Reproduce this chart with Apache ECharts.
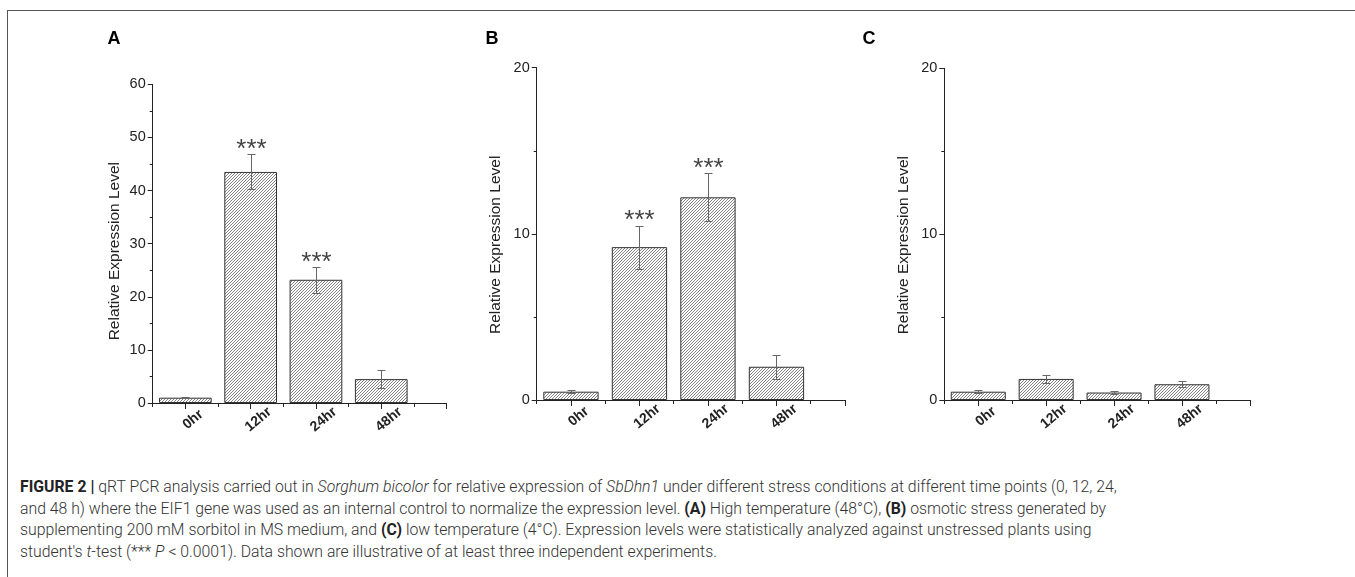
<!DOCTYPE html>
<html>
<head>
<meta charset="utf-8">
<title>SbDhn1 relative expression</title>
<script src="https://cdn.jsdelivr.net/npm/echarts@6/dist/echarts.min.js"></script>
<style>
  html, body { margin: 0; padding: 0; background: #fff; }
  #frame {
    position: absolute; left: 7px; top: 10px; right: 0; bottom: 0;
    border-top: 1px solid #555; border-left: 1px solid #555;
  }
  #chart { position: absolute; left: 0; top: 0; width: 1355px; height: 470px; }
  #caption {
    position: absolute; left: 20px; top: 476px;
    font-family: Roboto, 'Liberation Sans', Arial, sans-serif;
    font-weight: 300; font-size: 15.8px; line-height: 21.7px;
    color: #333; white-space: nowrap;
  }
  #caption b { font-weight: 700; color: #222; }
</style>
</head>
<body>
<div id="frame"></div>
<div id="chart"></div>
<div id="caption">
  <div><b>FIGURE 2 |</b> qRT PCR analysis carried out in <i>Sorghum bicolor</i> for relative expression of <i>SbDhn1</i> under different stress conditions at different time points (0, 12, 24,</div>
  <div>and 48 h) where the EIF1 gene was used as an internal control to normalize the expression level. <b>(A)</b> High temperature (48°C), <b>(B)</b> osmotic stress generated by</div>
  <div>supplementing 200 mM sorbitol in MS medium, and <b>(C)</b> low temperature (4°C). Expression levels were statistically analyzed against unstressed plants using</div>
  <div>student's <i>t</i>-test (*** <i>P</i> &lt; 0.0001). Data shown are illustrative of at least three independent experiments.</div>
</div>

<script>
// time points
const categories = ['0hr', '12hr', '24hr', '48hr']

// A: high temperature
const heatMean = [1.0, 43.5, 23.2, 4.5]
const heatErr = [0.1, 3.3, 2.45, 1.75]
const heatSig = ['', '***', '***', '']
const heatTicks = [0, 10, 20, 30, 40, 50, 60]

// B: osmotic stress
const osmoMean = [0.5, 9.2, 12.2, 2.0]
const osmoErr = [0.08, 1.3, 1.45, 0.72]
const osmoSig = ['', '***', '***', '']
const osmoTicks = [0, 10, 20]

// C: low temperature
const coldMean = [0.5, 1.27, 0.45, 0.95]
const coldErr = [0.08, 0.22, 0.1, 0.17]
const coldSig = ['', '', '', '']
const coldTicks = [0, 10, 20]

const panels = [
  { letter: 'A', letterX: 114, mean: heatMean, err: heatErr, sig: heatSig, ticks: heatTicks,
    left: 152.7, top: 84.3, height: 318.7, step: 65.3, barWidth: 52.7, nameGap: 30, namePad: 15 },
  { letter: 'B', letterX: 492, mean: osmoMean, err: osmoErr, sig: osmoSig, ticks: osmoTicks,
    left: 536.7, top: 67.7, height: 332.3, step: 68.5, barWidth: 55.3, nameGap: 33, namePad: 22 },
  { letter: 'C', letterX: 869, mean: coldMean, err: coldErr, sig: coldSig, ticks: coldTicks,
    left: 944.3, top: 68.3, height: 331.7, step: 67.9, barWidth: 55, nameGap: 33, namePad: 22 }
]

const ink = '#222'
const font = 'Liberation Sans, Arial, sans-serif'

// diagonal hatch fill for the bars
function makeHatch() {
  const c = document.createElement('canvas')
  c.width = c.height = 3
  const g = c.getContext('2d')
  g.fillStyle = '#fff'
  g.fillRect(0, 0, 3, 3)
  g.strokeStyle = '#777'
  g.lineWidth = 0.9
  g.beginPath()
  g.moveTo(0, 3); g.lineTo(3, 0)
  g.moveTo(-1, 1); g.lineTo(1, -1)
  g.moveTo(2, 4); g.lineTo(4, 2)
  g.stroke()
  return c
}
const hatch = makeHatch()

const grid = []
const xAxis = []
const yAxis = []
const series = []

panels.forEach((p, i) => {
  grid.push({ left: p.left, top: p.top, width: 4.5 * p.step, height: p.height })

  xAxis.push({
    type: 'value', gridIndex: i, min: -0.5, max: 4, position: 'bottom',
    axisLine: { onZero: false, lineStyle: { color: ink, width: 1 } },
    splitLine: { show: false },
    axisTick: { customValues: [0, 1, 2, 3, 4], length: 6, lineStyle: { color: ink } },
    axisLabel: {
      customValues: [0, 1, 2, 3],
      formatter: v => categories[v],
      rotate: 40, align: 'center', verticalAlign: 'middle',
      padding: [0, 0, 0, 20], margin: 23,
      fontFamily: font, fontWeight: 'bold', fontSize: 14, color: ink
    }
  })
  // small ticks between the bars
  xAxis.push({
    type: 'value', gridIndex: i, min: -0.5, max: 4, position: 'bottom',
    axisLine: { show: false, onZero: false },
    splitLine: { show: false },
    axisLabel: { show: false },
    axisTick: { customValues: [-0.5, 0.5, 1.5, 2.5, 3.5], length: 4, lineStyle: { color: ink } }
  })

  yAxis.push({
    type: 'value', gridIndex: i,
    min: p.ticks[0], max: p.ticks[p.ticks.length - 1], interval: p.ticks[1] - p.ticks[0],
    axisLine: { show: true, onZero: false, lineStyle: { color: ink, width: 1 } },
    axisTick: { show: true, length: 5, lineStyle: { color: ink } },
    minorTick: { show: true, splitNumber: 2, length: 3, lineStyle: { color: ink } },
    splitLine: { show: false },
    axisLabel: { fontFamily: font, fontSize: 14.5, color: ink, margin: 7 },
    name: 'Relative Expression Level',
    nameLocation: 'middle',
    nameGap: p.nameGap,
    nameTextStyle: { fontFamily: font, fontSize: 15.5, color: ink, padding: [0, p.namePad, 0, 0] }
  })

  series.push({
    type: 'bar',
    xAxisIndex: 2 * i, yAxisIndex: i,
    barWidth: p.barWidth,
    data: p.mean.map((v, k) => [k, v]),
    itemStyle: { color: { image: hatch, repeat: 'repeat' }, borderColor: '#333', borderWidth: 1 },
    silent: true
  })

  series.push({
    type: 'custom',
    xAxisIndex: 2 * i, yAxisIndex: i,
    z: 3,
    silent: true,
    data: p.mean.map((v, k) => [k, v, p.err[k]]),
    renderItem: (params, api) => {
      const x = api.value(0)
      const y = api.value(1)
      const e = api.value(2)
      const top = api.coord([x, y + e])
      const bot = api.coord([x, y - e])
      const cx = Math.round(top[0]) + 0.5
      const ty = Math.round(top[1]) + 0.5
      const by = Math.round(bot[1]) + 0.5
      const w = 4
      const stroke = { stroke: '#666', lineWidth: 1 }
      const children = [
        { type: 'line', shape: { x1: cx, y1: ty, x2: cx, y2: by }, style: stroke },
        { type: 'line', shape: { x1: cx - w, y1: ty, x2: cx + w, y2: ty }, style: stroke },
        { type: 'line', shape: { x1: cx - w, y1: by, x2: cx + w, y2: by }, style: stroke }
      ]
      const s = p.sig[params.dataIndex]
      if (s) {
        children.push({
          type: 'text', x: cx, y: top[1] - 4.3,
          style: {
            text: s, fill: '#444', fontSize: 26, fontFamily: font,
            align: 'center', verticalAlign: 'middle'
          }
        })
      }
      return { type: 'group', children }
    }
  })
})

const chart = echarts.init(document.getElementById('chart'))
chart.setOption({
  animation: false,
  grid,
  xAxis,
  yAxis,
  series,
  graphic: panels.map(p => ({
    type: 'text', x: p.letterX, y: 39,
    style: {
      text: p.letter, fill: '#000', align: 'center', verticalAlign: 'middle',
      font: 'bold 18px "Liberation Sans", Arial, sans-serif'
    }
  }))
})

window.addEventListener('resize', () => chart.resize())
</script>
</body>
</html>
